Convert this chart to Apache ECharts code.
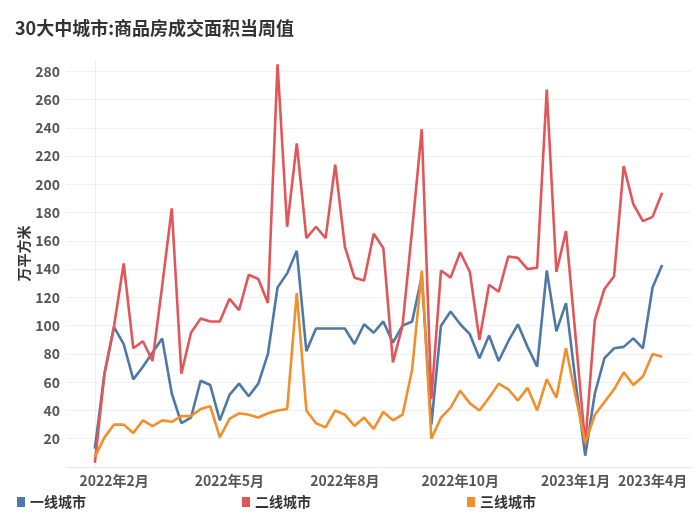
<!DOCTYPE html>
<html>
<head>
<meta charset="utf-8">
<title>30大中城市:商品房成交面积当周值</title>
<script src="https://cdn.jsdelivr.net/npm/echarts@6/dist/echarts.min.js"></script>
<style>
  html, body { margin: 0; padding: 0; background: #fff; }
  #chart { width: 700px; height: 525px; }
</style>
</head>
<body>
<div id="chart"></div>
<script>
// 周度数据，x 为周序号
const tickIdx = [2, 14, 26, 38, 50, 58];
const tickLabels = ['2022年2月', '2022年5月', '2022年8月', '2022年10月', '2023年1月', '2023年4月'];
const seriesNames = ['一线城市', '二线城市', '三线城市'];

const tier1 = [13, 66, 99, 87, 62, 71, 81, 91, 52, 31, 35, 61, 58, 33, 51, 59, 50, 59, 80, 127,
  137, 153, 82, 98, 98, 98, 98, 87, 101, 95, 103, 88, 100, 103, 135, 30, 100, 110, 101, 94,
  77, 93, 75, 89, 101, 85, 71, 139, 96, 116, 60, 8, 52, 77, 84, 85, 91, 84, 127, 143];
const tier2 = [3, 66, 100, 144, 84, 89, 75, 128, 183, 66, 95, 105, 103, 103, 119, 111, 136, 133, 116, 285,
  170, 229, 162, 170, 162, 214, 156, 134, 132, 165, 155, 74, 100, 168, 239, 48, 139, 134, 152, 138,
  90, 129, 124, 149, 148, 140, 141, 267, 138, 167, 92, 16, 104, 126, 135, 213, 186, 174, 177, 194];
const tier3 = [7, 21, 30, 30, 24, 33, 29, 33, 32, 36, 36, 41, 43, 21, 34, 38, 37, 35, 38, 40,
  41, 123, 40, 31, 28, 40, 37, 29, 35, 27, 39, 33, 37, 69, 139, 20, 35, 42, 54, 45,
  40, 49, 59, 55, 47, 56, 40, 62, 49, 84, 50, 17, 37, 46, 55, 67, 58, 64, 80, 78];

const colors = ['#4e79a7', '#e15759', '#f28e2b'];
const font = '"Noto Sans CJK SC", "Noto Sans", sans-serif';

const chart = echarts.init(document.getElementById('chart'));

function toPairs(arr) {
  return arr.map((v, i) => [i, v]);
}

const option = {
  color: colors,
  animation: false,
  title: {
    text: '30大中城市:商品房成交面积当周值',
    left: 10,
    top: 14,
    textStyle: { fontFamily: font, fontSize: 18, fontWeight: 'bold', color: '#333' }
  },
  legend: {
    left: 12,
    top: 490,
    itemWidth: 8,
    itemHeight: 10,
    itemGap: 156,
    icon: 'rect',
    textStyle: { fontFamily: font, fontSize: 14, fontWeight: 'bold', color: '#333' },
    data: seriesNames
  },
  grid: { left: 66, right: 9, top: 60, bottom: 58 },
  xAxis: {
    type: 'value',
    min: -3,
    max: 62,
    axisLine: { show: true, lineStyle: { color: '#e6e6e6' } },
    axisTick: { show: false },
    splitLine: { show: false },
    axisLabel: {
      customValues: tickIdx,
      margin: 7,
      fontFamily: font,
      fontSize: 14,
      fontWeight: 'bold',
      color: '#555',
      formatter: v => tickLabels[tickIdx.indexOf(v)] || ''
    }
  },
  yAxis: {
    type: 'value',
    min: 0,
    max: 288,
    interval: 20,
    name: '万平方米',
    nameLocation: 'middle',
    nameGap: 35,
    nameRotate: 90,
    nameMoveOverlap: false,
    nameTextStyle: { fontFamily: font, fontSize: 14, fontWeight: 'bold', color: '#333', padding: [0, 0, 0, 20] },
    axisLine: { show: true, lineStyle: { color: '#eeeeee' } },
    axisTick: { show: false },
    axisLabel: {
      showMinLabel: false,
      showMaxLabel: false,
      margin: 6,
      fontFamily: font,
      fontSize: 14,
      fontWeight: 'bold',
      color: '#555'
    },
    splitLine: { showMinLine: false, showMaxLine: false, lineStyle: { color: '#f0f0f0' } }
  },
  series: [
    { name: seriesNames[0], type: 'line', showSymbol: false, lineStyle: { width: 2.6 }, data: toPairs(tier1) },
    { name: seriesNames[1], type: 'line', showSymbol: false, lineStyle: { width: 2.6 }, data: toPairs(tier2) },
    { name: seriesNames[2], type: 'line', showSymbol: false, lineStyle: { width: 2.6 }, data: toPairs(tier3) }
  ]
};

chart.setOption(option);
</script>
</body>
</html>
